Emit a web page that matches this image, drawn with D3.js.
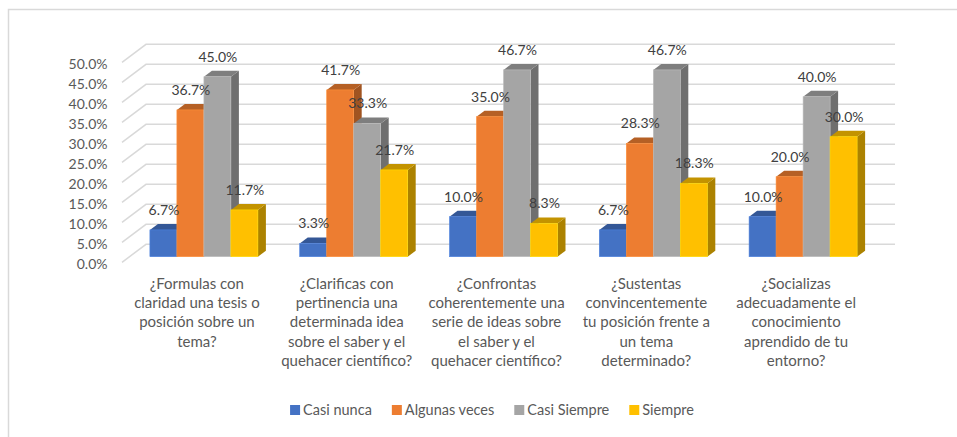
<!doctype html>
<html>
  <head>
    <meta charset="UTF-8"/>
    <title>Chart</title>
    <script src="https://d3js.org/d3.v7.min.js"></script>
    <style>
      body {
          margin: 0;
          padding: 0;
          background: #fff;
      }
      svg text {
          font-family: Lato, "Open Sans", sans-serif;
      }
    </style>
  </head>
  <body>
    <section id="app_screen"></section>
    <script>
      // data
      const categories = [
        ["¿Formulas con", "claridad una tesis o", "posición sobre un", "tema?"],
        ["¿Clarificas con", "pertinencia una", "determinada idea", "sobre el saber y el", "quehacer científico?"],
        ["¿Confrontas", "coherentemente una", "serie de ideas sobre", "el saber y el", "quehacer científico?"],
        ["¿Sustentas", "convincentemente", "tu posición frente a", "un tema", "determinado?"],
        ["¿Socializas", "adecuadamente el", "conocimiento", "aprendido de tu", "entorno?"]
      ];
      const seriesNames = ["Casi nunca", "Algunas veces", "Casi Siempre", "Siempre"];
      const casiNunca = [6.7, 3.3, 10.0, 6.7, 10.0];
      const algunasVeces = [36.7, 41.7, 35.0, 28.3, 20.0];
      const casiSiempre = [45.0, 33.3, 46.7, 46.7, 40.0];
      const siempre = [11.7, 21.7, 8.3, 18.3, 30.0];
      const yTicks = [0, 5, 10, 15, 20, 25, 30, 35, 40, 45, 50];
      const colors = ["#4472C4", "#ED7D31", "#A5A5A5", "#FFC000"];

      const seriesValues = [casiNunca, algunasVeces, casiSiempre, siempre];
      const W = 957, H = 437;
      const svg = d3.select("#app_screen").append("svg")
        .attr("width", W).attr("height", H);

      // frame (only top and left edges are visible)
      svg.append("path")
        .attr("d", `M8.5,${H} L8.5,9.5 L${W},9.5`)
        .attr("fill", "none").attr("stroke", "#D9D9D9").attr("stroke-width", 1.5);

      // 3d-ish geometry
      const depthX = -24, depthY = 18;   // back wall -> front floor edge
      const yBack = d3.scaleLinear().domain([0, 50]).range([244.3, 44.3]);
      const yBar = d3.scaleLinear().domain([0, 50]).range([256.7, 56.7]);
      const xFront = d3.scaleBand().domain(d3.range(categories.length)).range([146 + depthX, 895 + depthX]);
      const xSeries = d3.scaleBand().domain(d3.range(seriesNames.length)).range([0, 108]);
      const barDx = 8, barDy = -6;

      // grid: back wall lines + diagonal on the left side wall
      const grid = svg.append("g").attr("stroke", "#D9D9D9").attr("stroke-width", 1.5).attr("fill", "none");
      yTicks.forEach(t => {
        const y = yBack(t);
        grid.append("path")
          .attr("d", `M${146 + depthX},${y + depthY} L146,${y} L895,${y}`);
      });

      // y tick labels
      svg.append("g").selectAll("text").data(yTicks).join("text")
        .attr("x", 107.5)
        .attr("y", d => yBack(d) + depthY + 1.5)
        .attr("dy", "0.35em")
        .attr("text-anchor", "end")
        .attr("font-size", 14)
        .attr("fill", "#595959")
        .text(d => d.toFixed(1) + "%");

      const shade = (c, k) => d3.rgb(c).darker(k).formatHex();

      const bars = svg.append("g");
      const labels = [];
      categories.forEach((cat, ci) => {
        const gx = xFront(ci) + xFront.bandwidth() / 2 + 7 - 54;
        seriesValues.forEach((vals, si) => {
          const v = vals[ci];
          const x0 = gx + xSeries(si), x1 = x0 + xSeries.bandwidth();
          const yt = yBar(v), yb = yBar(0);
          const g = bars.append("g");
          // side
          g.append("path")
            .attr("d", `M${x1},${yb} L${x1 + barDx},${yb + barDy} L${x1 + barDx},${yt + barDy} L${x1},${yt} Z`)
            .attr("fill", shade(colors[si], 1.1));
          // top
          g.append("path")
            .attr("d", `M${x0},${yt} L${x0 + barDx},${yt + barDy} L${x1 + barDx},${yt + barDy} L${x1},${yt} Z`)
            .attr("fill", shade(colors[si], 0.75));
          // front
          g.append("rect")
            .attr("x", x0).attr("y", yt)
            .attr("width", x1 - x0).attr("height", yb - yt)
            .attr("fill", colors[si])
            .attr("stroke", d3.rgb(colors[si]).brighter(0.4).formatHex())
            .attr("stroke-width", 0.6);
          labels.push({x: (x0 + x1) / 2 + 0.5, y: yt - 20, v});
        });
      });

      // data labels on top of bars
      svg.append("g").selectAll("text").data(labels).join("text")
        .attr("x", d => d.x)
        .attr("y", d => d.y)
        .attr("dy", "0.35em")
        .attr("text-anchor", "middle")
        .attr("font-size", 14)
        .attr("fill", "#404040")
        .text(d => d.v.toFixed(1) + "%");

      // category labels
      const catG = svg.append("g");
      categories.forEach((lines, ci) => {
        const cx = xFront(ci) + xFront.bandwidth() / 2;
        const t = catG.append("text")
          .attr("text-anchor", "middle")
          .attr("font-size", 15)
          .attr("fill", "#595959");
        lines.forEach((ln, li) => {
          t.append("tspan")
            .attr("x", cx)
            .attr("y", 283.3 + li * 19.4)
            .attr("dy", "0.35em")
            .text(ln);
        });
      });

      // legend
      const leg = svg.append("g");
      const items = seriesNames.map((name, i) => {
        const g = leg.append("g");
        g.append("rect").attr("width", 10).attr("height", 10).attr("y", -5).attr("fill", colors[i]);
        const tx = g.append("text").attr("x", 13).attr("dy", "0.35em")
          .attr("font-size", 14.5).attr("fill", "#595959").text(name);
        return {g, w: 13 + tx.node().getComputedTextLength()};
      });
      const gap = 20;
      const total = d3.sum(items, d => d.w) + gap * (items.length - 1);
      let lx = 492 - total / 2;
      items.forEach(it => {
        it.g.attr("transform", `translate(${lx},410)`);
        lx += it.w + gap;
      });
    </script>
  </body>
</html>
